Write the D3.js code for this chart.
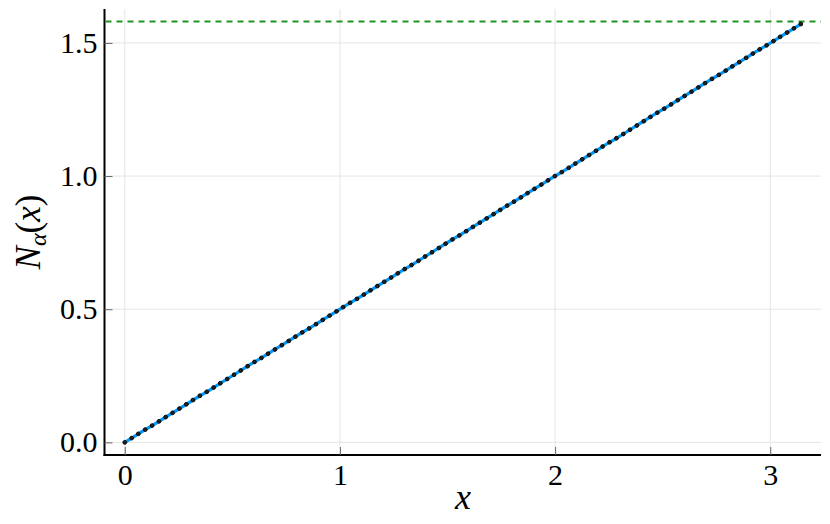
<!DOCTYPE html>
<html>
<head>
<meta charset="utf-8">
<script src="https://d3js.org/d3.v7.min.js"></script>
<style>
  body { margin: 0; background: #fff; }
  text { font-family: "Liberation Serif", "DejaVu Serif", serif; fill: #000; }
</style>
</head>
<body>
<div id="container"></div>
<script>
// sampled points of the curve (100 points from 0 to pi)
var xs = [0.000, 0.032, 0.063, 0.095, 0.127, 0.159, 0.190, 0.222, 0.254, 0.286,
          0.317, 0.349, 0.381, 0.413, 0.444, 0.476, 0.508, 0.539, 0.571, 0.603,
          0.635, 0.666, 0.698, 0.730, 0.762, 0.793, 0.825, 0.857, 0.889, 0.920,
          0.952, 0.984, 1.015, 1.047, 1.079, 1.111, 1.142, 1.174, 1.206, 1.238,
          1.269, 1.301, 1.333, 1.365, 1.396, 1.428, 1.460, 1.491, 1.523, 1.555,
          1.587, 1.618, 1.650, 1.682, 1.714, 1.745, 1.777, 1.809, 1.841, 1.872,
          1.904, 1.936, 1.967, 1.999, 2.031, 2.063, 2.094, 2.126, 2.158, 2.190,
          2.221, 2.253, 2.285, 2.317, 2.348, 2.380, 2.412, 2.443, 2.475, 2.507,
          2.539, 2.570, 2.602, 2.634, 2.666, 2.697, 2.729, 2.761, 2.793, 2.824,
          2.856, 2.888, 2.919, 2.951, 2.983, 3.015, 3.046, 3.078, 3.110, 3.142];
var ys = [0.000, 0.016, 0.032, 0.048, 0.063, 0.079, 0.095, 0.111, 0.127, 0.143,
          0.159, 0.175, 0.190, 0.206, 0.222, 0.238, 0.254, 0.270, 0.286, 0.302,
          0.317, 0.333, 0.349, 0.365, 0.381, 0.397, 0.413, 0.428, 0.444, 0.460,
          0.476, 0.492, 0.508, 0.524, 0.539, 0.555, 0.571, 0.587, 0.603, 0.619,
          0.635, 0.651, 0.666, 0.682, 0.698, 0.714, 0.730, 0.746, 0.762, 0.777,
          0.793, 0.809, 0.825, 0.841, 0.857, 0.873, 0.889, 0.904, 0.920, 0.936,
          0.952, 0.968, 0.984, 1.000, 1.015, 1.031, 1.047, 1.063, 1.079, 1.095,
          1.111, 1.127, 1.142, 1.158, 1.174, 1.190, 1.206, 1.222, 1.238, 1.253,
          1.269, 1.285, 1.301, 1.317, 1.333, 1.349, 1.365, 1.380, 1.396, 1.412,
          1.428, 1.444, 1.460, 1.476, 1.491, 1.507, 1.523, 1.539, 1.555, 1.571];
var hlineY = 1.58;
var xTicks = [0, 1, 2, 3];
var yTicks = [0.0, 0.5, 1.0, 1.5];

var width = 830, height = 524;
var plotL = 104.5, plotR = 821, plotT = 9, plotB = 455;

var x = d3.scaleLinear().domain([-0.0942, 3.2358]).range([plotL, plotR]);
var y = d3.scaleLinear().domain([-0.0474, 1.6274]).range([plotB, plotT]);

var svg = d3.select("#container")
  .append("svg")
  .attr("width", width)
  .attr("height", height);

// grid
svg.append("g")
    .attr("stroke", "#e5e5e5")
    .attr("stroke-width", 1)
  .selectAll("line")
  .data(xTicks)
  .join("line")
    .attr("x1", d => x(d)).attr("x2", d => x(d))
    .attr("y1", plotT).attr("y2", plotB);

svg.append("g")
    .attr("stroke", "#e5e5e5")
    .attr("stroke-width", 1)
  .selectAll("line")
  .data(yTicks)
  .join("line")
    .attr("x1", plotL).attr("x2", plotR)
    .attr("y1", d => y(d)).attr("y2", d => y(d));

// axes
var xAxis = svg.append("g")
    .attr("transform", `translate(0,${plotB})`)
    .call(d3.axisBottom(x).tickValues(xTicks).tickFormat(d3.format("d"))
      .tickSizeInner(-8).tickSizeOuter(0).tickPadding(9));

var yAxis = svg.append("g")
    .attr("transform", `translate(${plotL},0)`)
    .call(d3.axisLeft(y).tickValues(yTicks).tickFormat(d3.format(".1f"))
      .tickSizeInner(-8).tickSizeOuter(0).tickPadding(7));

[xAxis, yAxis].forEach(function (g) {
  g.select(".domain").attr("stroke", "#000").attr("stroke-width", 2);
  g.selectAll(".tick line").attr("stroke", "#666").attr("stroke-width", 1);
  g.selectAll(".tick text")
    .attr("font-family", "Liberation Serif, DejaVu Serif, serif")
    .attr("font-size", 30)
    .attr("fill", "#000");
});
xAxis.select(".domain").attr("d", `M${plotL - 1},0H${plotR}`);
yAxis.select(".domain").attr("d", `M0,${plotT}V${plotB + 1}`);

// dashed horizontal reference line
svg.append("line")
    .attr("x1", plotL + 1).attr("x2", plotR)
    .attr("y1", y(hlineY)).attr("y2", y(hlineY))
    .attr("stroke", "#1f961f")
    .attr("stroke-width", 2)
    .attr("stroke-dasharray", "6,5");

// series
var pts = xs.map((v, i) => [v, ys[i]]);

svg.append("path")
    .datum(pts)
    .attr("fill", "none")
    .attr("stroke", "#009afa")
    .attr("stroke-width", 3.2)
    .attr("d", d3.line().x(d => x(d[0])).y(d => y(d[1])));

svg.append("g")
  .selectAll("circle")
  .data(pts)
  .join("circle")
    .attr("cx", d => x(d[0]))
    .attr("cy", d => y(d[1]))
    .attr("r", 1.9)
    .attr("fill", "#222")
    .attr("stroke", "#000")
    .attr("stroke-width", 0.9);

// axis labels
svg.append("text")
    .attr("x", 463)
    .attr("y", 509)
    .attr("text-anchor", "middle")
    .attr("font-size", 36)
    .attr("font-style", "italic")
    .text("x");

var yl = svg.append("text")
    .attr("transform", "translate(40,232) rotate(-90)")
    .attr("text-anchor", "middle")
    .attr("font-size", 35);
yl.append("tspan").attr("font-style", "italic").text("N");
yl.append("tspan").attr("font-style", "italic").attr("font-size", 24).attr("dy", 6).text("α");
yl.append("tspan").attr("dy", -6).text("(");
yl.append("tspan").attr("font-style", "italic").text("x");
yl.append("tspan").text(")");
</script>
</body>
</html>
